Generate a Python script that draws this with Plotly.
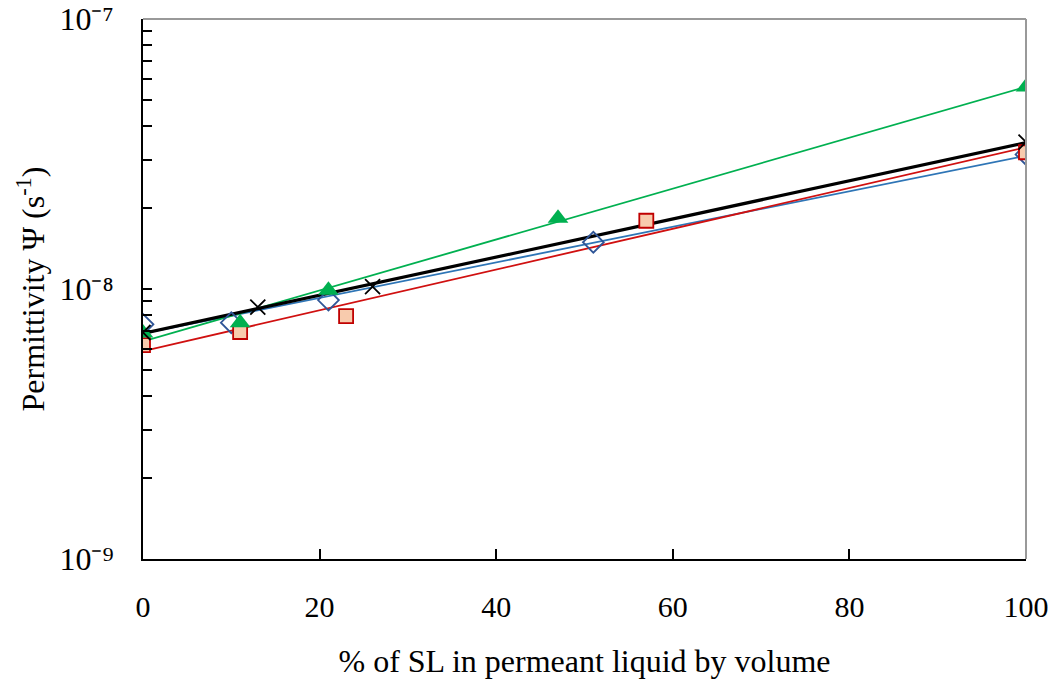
import numpy as np
import plotly.graph_objects as go

# Data (% SL, permittivity s^-1)
blue_x = [0, 10, 21, 51, 100]
blue_y = [7.4e-9, 7.5e-9, 9.1e-9, 1.49e-8, 3.15e-8]

green_x = [0, 11, 21, 47, 100]
green_y = [6.87e-9, 7.5e-9, 9.9e-9, 1.83e-8, 5.6e-8]

black_x = [0, 13, 26, 100]
black_y = [6.9e-9, 8.57e-9, 1.02e-8, 3.5e-8]

red_x = [0, 11, 23, 57, 100]
red_y = [6.2e-9, 6.93e-9, 7.94e-9, 1.79e-8, 3.21e-8]

x_ticks = [0, 20, 40, 60, 80, 100]
y_ticks = [1e-9, 1e-8, 1e-7]
y_ticktext = ["10⁻⁹", "10⁻⁸", "10⁻⁷"]

FONT = "Liberation Serif"

fig = go.Figure()


def fit_line(xs, ys):
    b, a = np.polyfit(np.array(xs, float), np.log10(np.array(ys, float)), 1)
    xx = np.linspace(0, 100, 51)
    return xx, 10 ** (a + b * xx)


series = [
    (blue_x, blue_y, "#2E75B6", 1.8,
     dict(symbol="diamond-open", size=16, color="#2F5597", line=dict(width=1.8, color="#2F5597"))),
    (red_x, red_y, "#D01010", 1.8,
     dict(symbol="square", size=14, color="#F8CBAD", line=dict(width=1.8, color="#C00000"))),
    (green_x, green_y, "#00B050", 1.8,
     dict(symbol="triangle-up", size=18, color="#00B050", line=dict(width=0))),
    (black_x, black_y, "#000000", 3.2,
     dict(symbol="x-thin-open", size=15, color="#000000", line=dict(width=1.8, color="#000000"))),
]

for xs, ys, lc, lw, mk in series:
    fx, fy = fit_line(xs, ys)
    fig.add_trace(go.Scatter(x=fx, y=fy, mode="lines", line=dict(color=lc, width=lw),
                             showlegend=False, hoverinfo="skip"))
for xs, ys, lc, lw, mk in series:
    fig.add_trace(go.Scatter(x=xs, y=ys, mode="markers", marker=mk, showlegend=False))

# gray top/right border
fig.add_shape(type="line", xref="x domain", yref="y domain", x0=0, x1=1, y0=1, y1=1,
              line=dict(color="#999999", width=2))
fig.add_shape(type="line", xref="x domain", yref="y domain", x0=1, x1=1, y0=0, y1=1,
              line=dict(color="#999999", width=2))

fig.update_layout(
    width=1058, height=686,
    margin=dict(l=143, r=32, t=19, b=127),
    paper_bgcolor="white", plot_bgcolor="white",
    font=dict(family=FONT, size=28, color="black"),
)
fig.update_xaxes(
    range=[0, 100], tickvals=x_ticks, ticks="inside", ticklen=10, tickwidth=1.5,
    tickcolor="black", showline=True, linecolor="black", linewidth=2, showgrid=False,
    zeroline=False, ticklabelstandoff=20, automargin=False, ticklabeloverflow="allow",
    tickfont=dict(size=30),
    title=dict(text="% of SL in permeant liquid by volume", font=dict(size=32), standoff=28),
)
fig.update_yaxes(
    type="log", range=[-9, -7], tickvals=y_ticks, ticktext=y_ticktext,
    ticks="inside", ticklen=9, tickwidth=1.5, tickcolor="black",
    minor=dict(ticks="inside", ticklen=9, tickwidth=1.5, tickcolor="black",
               tickvals=[k * 10 ** e for e in (-9, -8) for k in range(2, 10)], showgrid=False),
    showline=True, linecolor="black", linewidth=2, showgrid=False, zeroline=False,
    ticklabelstandoff=21, automargin=False, ticklabeloverflow="allow",
    tickfont=dict(size=32),
    title=dict(text="Permittivity Ψ (s<sup>-1</sup>)", font=dict(size=32), standoff=5),
)

fig.write_html("out.html", config={"displayModeBar": False},
               post_script="document.body.style.margin='0';")
